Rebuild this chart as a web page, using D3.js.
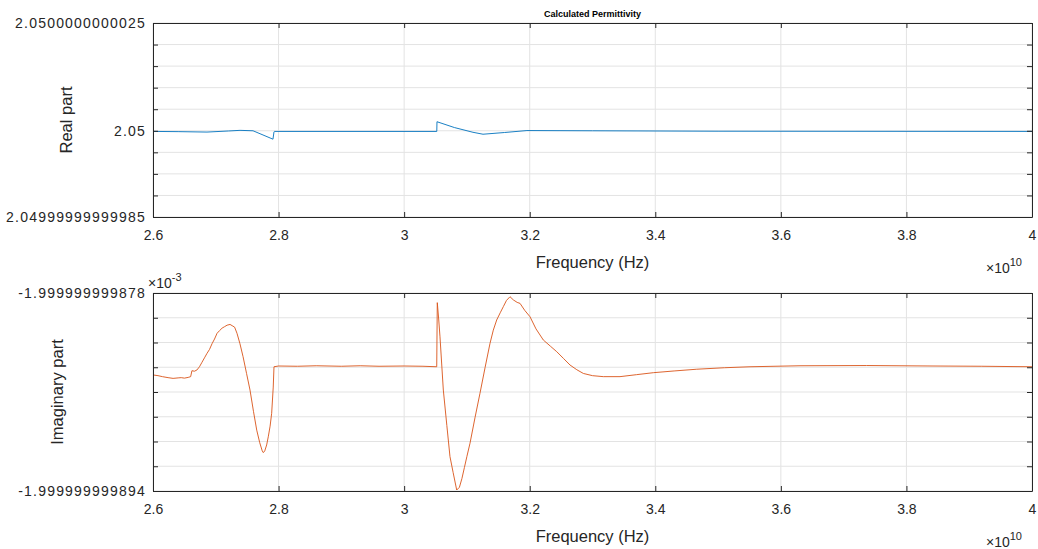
<!DOCTYPE html>
<html><head><meta charset="utf-8">
<script src="https://cdn.jsdelivr.net/npm/d3@7"></script>
<style>
body{margin:0;background:#fff;}
svg{display:block;font-family:"Liberation Sans",Arial,Helvetica,sans-serif;}
</style></head>
<body><svg id="c" width="1038" height="549"></svg>
<script>
// ---- data ----
const title = "Calculated Permittivity";
const xLabel = "Frequency (Hz)";
const xTicks = [2.6, 2.8, 3.0, 3.2, 3.4, 3.6, 3.8, 4.0];
const xTickLabels = ["2.6", "2.8", "3", "3.2", "3.4", "3.6", "3.8", "4"];
const xExponent = "10";

// Real part: offset from 2.05 in units of 0.5e-12
const realTicks = [-4, -3, -2, -1, 0, 1, 2, 3, 4, 5];
const realTickLabels = {"-4": "2.04999999999985", "0": "2.05", "5": "2.0500000000025"};
const realFreq = [2.6, 2.64, 2.686, 2.72, 2.7386, 2.7593, 2.7911, 2.7927, 2.7935, 3.052, 3.0523, 3.08, 3.1096, 3.1256, 3.16, 3.1956, 3.3, 3.5, 4.0];
const realVal  = [-0.03, -0.04, -0.06, -0.01, 0.02, 0.0, -0.39, -0.05, -0.03, -0.03, 0.42, 0.15, -0.07, -0.16, -0.08, 0.01, 0.0, -0.02, -0.03];

// Imaginary part: offset above -1.999999999894e-3 in units of 2e-15
const imagTicks = [0, 1, 2, 3, 4, 5, 6, 7, 8];
const imagTickLabels = {"0": "-1.999999999894", "8": "-1.999999999878"};
const imagExponent = "-3";
const imagFreq = [2.600, 2.608, 2.615, 2.624, 2.632, 2.640, 2.645, 2.650, 2.656, 2.660, 2.662, 2.666, 2.670, 2.674, 2.678, 2.682, 2.686, 2.690, 2.694, 2.698, 2.702, 2.706, 2.710, 2.714, 2.718, 2.7227, 2.726, 2.730, 2.7338, 2.7385, 2.7434, 2.749, 2.7545, 2.760, 2.7652, 2.770, 2.7740, 2.7757, 2.7780, 2.7810, 2.7836, 2.7865, 2.7890, 2.7915, 2.7927, 2.80, 2.83, 2.86, 2.90, 2.93, 2.96, 3.00, 3.03, 3.0519, 3.0528, 3.0550, 3.0571, 3.0600, 3.0624, 3.0680, 3.0730, 3.0780, 3.0837, 3.0880, 3.0920, 3.0960, 3.1000, 3.1049, 3.1130, 3.1208, 3.1290, 3.1368, 3.1420, 3.1474, 3.1530, 3.1580, 3.1630, 3.1686, 3.1740, 3.1800, 3.1846, 3.1920, 3.2005, 3.2100, 3.2217, 3.2330, 3.2430, 3.2540, 3.2642, 3.2750, 3.2854, 3.3000, 3.3172, 3.3438, 3.3700, 3.3969, 3.4300, 3.4660, 3.5100, 3.5509, 3.6305, 3.7367, 3.8423, 3.9200, 4.0000];
const imagVal  = [4.69, 4.66, 4.62, 4.58, 4.55, 4.57, 4.58, 4.56, 4.59, 4.62, 4.86, 4.84, 4.89, 5.02, 5.20, 5.38, 5.56, 5.72, 5.95, 6.14, 6.37, 6.48, 6.58, 6.64, 6.70, 6.73, 6.68, 6.62, 6.37, 5.95, 5.43, 4.75, 4.08, 3.22, 2.46, 1.95, 1.62, 1.55, 1.62, 1.86, 2.19, 2.62, 3.14, 4.20, 5.02, 5.05, 5.04, 5.06, 5.04, 5.06, 5.04, 5.05, 5.04, 5.02, 7.61, 6.95, 6.23, 5.05, 4.08, 2.65, 1.39, 0.75, 0.04, 0.15, 0.50, 0.95, 1.40, 1.93, 2.98, 3.95, 5.00, 5.97, 6.50, 6.91, 7.20, 7.45, 7.70, 7.85, 7.72, 7.62, 7.58, 7.30, 7.04, 6.55, 6.10, 5.85, 5.63, 5.35, 5.09, 4.90, 4.75, 4.66, 4.62, 4.62, 4.70, 4.78, 4.85, 4.92, 4.98, 5.02, 5.06, 5.07, 5.05, 5.04, 5.02];

// ---- drawing ----
const svg = d3.select("#c");
const L = 153, R = 1032;
const axisCol = "#262626", gridCol = "#e3e3e3";

function panel(top, bottom, yDomain, yTicks, yLabels, freq, vals, color, yTitle, yTitleX) {
  const x = d3.scaleLinear().domain([2.6, 4.0]).range([L, R]);
  const y = d3.scaleLinear().domain(yDomain).range([bottom, top]);
  const g = svg.append("g");
  // grid
  g.selectAll(".gx").data(xTicks).join("line")
    .attr("x1", d => x(d)).attr("x2", d => x(d)).attr("y1", top).attr("y2", bottom)
    .attr("stroke", gridCol).attr("stroke-width", 1);
  g.selectAll(".gy").data(yTicks).join("line")
    .attr("x1", L).attr("x2", R).attr("y1", d => y(d)).attr("y2", d => y(d))
    .attr("stroke", gridCol).attr("stroke-width", 1);
  // line
  const pts = freq.map((f, i) => [f, vals[i]]);
  g.append("path").datum(pts)
    .attr("d", d3.line().x(d => x(d[0])).y(d => y(d[1])))
    .attr("fill", "none").attr("stroke", color).attr("stroke-width", 0.9)
    .attr("stroke-linejoin", "round");
  // axes
  const ax = g.append("g").attr("transform", `translate(0,${bottom})`)
    .call(d3.axisBottom(x).tickValues(xTicks).tickFormat((d, i) => xTickLabels[i]).tickSizeInner(-5).tickSizeOuter(0).tickPadding(13));
  ax.select(".domain").attr("stroke", axisCol);
  ax.selectAll(".tick line").attr("stroke", axisCol);
  ax.selectAll("text").attr("font-size", 14).attr("fill", "#262626").attr("font-family", "Liberation Sans, Arial, sans-serif");
  const axT = g.append("g").attr("transform", `translate(0,${top})`)
    .call(d3.axisTop(x).tickValues(xTicks).tickFormat("").tickSizeInner(-5).tickSizeOuter(0));
  axT.select(".domain").attr("stroke", axisCol);
  axT.selectAll(".tick line").attr("stroke", axisCol);
  const ay = g.append("g").attr("transform", `translate(${L},0)`)
    .call(d3.axisLeft(y).tickValues(yTicks).tickFormat(d => yLabels[String(d)] || "").tickSizeInner(-5).tickSizeOuter(0).tickPadding(7));
  ay.select(".domain").attr("stroke", axisCol);
  ay.selectAll(".tick line").attr("stroke", axisCol);
  ay.selectAll("text").attr("font-size", 14).attr("letter-spacing", "1.2px").attr("fill", "#262626").attr("font-family", "Liberation Sans, Arial, sans-serif");
  const ayR = g.append("g").attr("transform", `translate(${R},0)`)
    .call(d3.axisRight(y).tickValues(yTicks).tickFormat("").tickSizeInner(-5).tickSizeOuter(0));
  ayR.select(".domain").attr("stroke", axisCol);
  ayR.selectAll(".tick line").attr("stroke", axisCol);
  // x label
  g.append("text").attr("x", (L + R) / 2).attr("y", bottom + 51).attr("text-anchor", "middle")
    .attr("font-size", 16.5).attr("fill", "#262626").text(xLabel);
  // x exponent
  const ex = g.append("text").attr("x", 986).attr("y", bottom + 56).attr("font-size", 14).attr("fill", "#262626");
  ex.append("tspan").text("\u00d710");
  ex.append("tspan").attr("dy", -7).attr("font-size", 11).text(xExponent);
  // y title
  g.append("text").attr("transform", `translate(${yTitleX},${(top + bottom) / 2}) rotate(-90)`)
    .attr("text-anchor", "middle").attr("font-size", 16.5).attr("fill", "#262626").text(yTitle);
  return {x, y, g};
}

panel(23, 217, [-4, 5], realTicks, realTickLabels, realFreq, realVal, "#0072BD", "Real part", 72);
panel(293, 491, [0, 8], imagTicks, imagTickLabels, imagFreq, imagVal, "#D95319", "Imaginary part", 63);

// imag exponent
const e2 = svg.append("text").attr("x", 148).attr("y", 288).attr("font-size", 14).attr("fill", "#262626");
e2.append("tspan").text("\u00d710");
e2.append("tspan").attr("dy", -7).attr("font-size", 11).text(imagExponent);

// title
svg.append("text").attr("x", (L + R) / 2).attr("y", 17).attr("text-anchor", "middle")
  .attr("font-size", 9).attr("font-weight", "bold").attr("fill", "#000").text(title);
</script></body></html>
